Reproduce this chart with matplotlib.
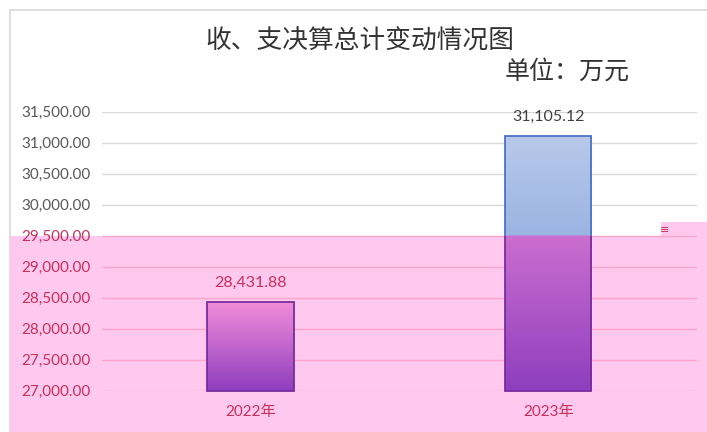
import numpy as np
import matplotlib.pyplot as plt
from matplotlib.patches import Rectangle

plt.rcParams['font.family'] = ['Lato', 'Noto Sans CJK SC', 'DejaVu Sans']

# data
years = ['2022年', '2023年']
totals = [28431.88, 31105.12]
y_ticks = [27000, 27500, 28000, 28500, 29000, 29500, 30000, 30500, 31000, 31500]
y_min, y_max = 27000, 31500
overlay_level = 29500  # the pink highlight covers everything below this value

title = '收、支决算总计变动情况图'
unit = '单位：万元'

GRAY_TEXT = '#595959'
RED_TEXT = '#C8305A'
PINK = '#FFC9EF'
GRID_GRAY = '#D9D9D9'
GRID_PINK = '#FFA3CB'

W, H = 707, 432
fig = plt.figure(figsize=(W / 100, H / 100), dpi=100)
ax = fig.add_axes([101.7 / W, 1 - 390.7 / H, (697 - 101.7) / W, (390.7 - 111.7) / H])
ax.set_facecolor('none')
ax.set_zorder(2)

x = np.arange(len(years))
bar_w = 0.29


def lerp(c0, c1, t):
    c0 = np.array(plt.matplotlib.colors.to_rgb(c0))
    c1 = np.array(plt.matplotlib.colors.to_rgb(c1))
    return c0[None, :] + (c1 - c0)[None, :] * t[:, None]


# gradient fill for each bar, blue above the highlight, purple inside it
for xi, v in zip(x, totals):
    ys = np.linspace(y_min, v, 300)
    t = (ys - y_min) / (v - y_min)
    blue = lerp('#6F93D7', '#B8C9EA', t)
    purple = lerp('#8E3EBE', '#F28CDA', t)
    rgb = np.where((ys <= overlay_level)[:, None], purple, blue)
    ax.imshow(rgb[:, None, :], extent=(xi - bar_w / 2, xi + bar_w / 2, y_min, v),
              origin='lower', aspect='auto', interpolation='bilinear', zorder=3)

heights = [v - y_min for v in totals]
upper = ax.bar(x, heights, bottom=y_min, width=bar_w, fill=False,
               edgecolor='#4A74C6', linewidth=1.3, zorder=4)
lower = ax.bar(x, heights, bottom=y_min, width=bar_w, fill=False,
               edgecolor='#7A2C9E', linewidth=1.3, zorder=4)
for p in upper:
    p.set_clip_path(Rectangle((-1, overlay_level), 3, y_max - overlay_level + 200,
                              transform=ax.transData))
for p in lower:
    p.set_clip_path(Rectangle((-1, y_min - 200), 3, overlay_level - y_min + 200,
                              transform=ax.transData))

ax.set_xlim(-0.5, len(years) - 0.5)
ax.set_ylim(y_min, y_max)
ax.set_yticks(y_ticks)
ax.set_yticklabels([f'{v:,.2f}' for v in y_ticks])
ax.set_xticks(x)
ax.set_xticklabels(years)
ax.tick_params(length=0, labelsize=11)
ax.tick_params(axis='y', pad=8)
ax.tick_params(axis='x', pad=10)
for s in ax.spines.values():
    s.set_visible(False)

ax.grid(axis='y', linewidth=1, zorder=1)
ax.set_axisbelow(True)
for v, gl, lab in zip(y_ticks, ax.yaxis.get_gridlines(), ax.get_yticklabels()):
    inside = v <= overlay_level
    gl.set_color(GRID_PINK if inside else GRID_GRAY)
    lab.set_color(RED_TEXT if inside else GRAY_TEXT)
for lab in ax.get_xticklabels():
    lab.set_color(RED_TEXT)

for xi, v in zip(x, totals):
    ax.annotate(f'{v:,.2f}', (xi, v), xytext=(0, 8.5), textcoords='offset points',
                ha='center', va='bottom', fontsize=11.5,
                color=RED_TEXT if v < overlay_level else '#404040', zorder=5)

# chart frame
fig.patches.append(Rectangle((10 / W, -0.05), 1.2, 1 - 10 / H + 0.05, fill=False,
                             edgecolor=GRID_GRAY, linewidth=1.2,
                             transform=fig.transFigure, zorder=0))

# pink highlight overlay
y_frac = fig.transFigure.inverted().transform(ax.transData.transform((0, overlay_level)))[1]
fig.patches.append(Rectangle((10 / W, 0), 1, y_frac, facecolor=PINK, edgecolor='none',
                             transform=fig.transFigure, zorder=0.5))
fig.patches.append(Rectangle((661 / W, y_frac), 1, 14 / H, facecolor=PINK, edgecolor='none',
                             transform=fig.transFigure, zorder=0.5))
fig.text(665 / W, y_frac + 6 / H, '≡', color=RED_TEXT, fontsize=8,
         ha='center', va='center', family='DejaVu Sans')

fig.text(360 / W, 1 - 42 / H, title, fontsize=18.5, color='#333333',
         ha='center', va='center', family=['Noto Sans CJK SC', 'DejaVu Sans'])
fig.text(567 / W, 1 - 72 / H, unit, fontsize=18, color='#333333',
         ha='center', va='center', family=['Noto Sans CJK SC', 'DejaVu Sans'])

fig.savefig('out.png', dpi=100)
